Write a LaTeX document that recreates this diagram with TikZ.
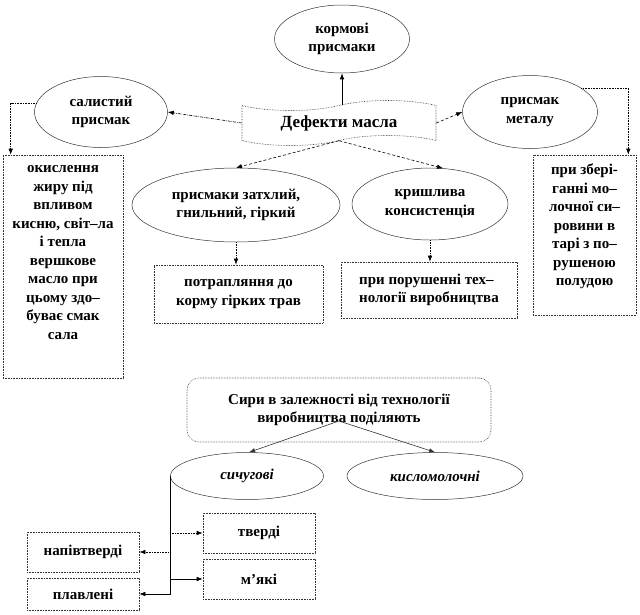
\documentclass[tikz,border=0pt]{standalone}
\usepackage{fontspec}
\setmainfont{Liberation Serif}
\usetikzlibrary{shapes.geometric,shapes.symbols,arrows.meta}

\begin{document}
\begin{tikzpicture}[x=1pt,y=-1pt,
    font=\fontsize{15}{18.5}\selectfont\bfseries,
    oval/.style={ellipse,draw=black!80,line width=0.5pt,align=center,inner sep=0pt},
    box/.style={rectangle,draw=black!80,densely dotted,line width=0.6pt,align=center,inner sep=2pt},
    link/.style={-{Latex[length=6pt,width=4.5pt]},line width=0.6pt}]
    \useasboundingbox (0,0) rectangle (640,614);

    \node[tape,draw=black!80,densely dotted,line width=0.6pt,minimum width=194,minimum height=45,
          tape bend height=10pt,font=\fontsize{17}{20}\selectfont\bfseries] (defekt) at (339,123) {Дефекти масла};
    \node[oval,minimum width=135,minimum height=68] (korm) at (342,39) {кормові\\присмаки};
    \node[oval,minimum width=133,minimum height=71] (salyst) at (101,112) {салистий\\присмак};
    \node[oval,minimum width=135,minimum height=73] (metal) at (530,112) {присмак\\металу};
    \node[oval,minimum width=208,minimum height=74] (zathl) at (236,205) {присмаки затхлий,\\гнильний, гіркий};
    \node[oval,minimum width=156,minimum height=72] (kryshl) at (430,204) {кришлива\\консистенція};

    \node[box,minimum width=120,minimum height=223,text depth=28pt] (okysl) at (63,266.5)
        {окислення\\жиру під\\впливом\\кисню, світ–ла\\і тепла\\вершкове\\масло при\\цьому здо–\\буває смак\\сала};
    \node[box,minimum width=103,minimum height=160,text depth=20pt] (zberig) at (584.5,235)
        {при збері-\\ганні мо–\\лочної си–\\ровини в\\тарі з по–\\рушеною\\полудою};
    \node[box,minimum width=169,minimum height=58] (potrap) at (238.5,294) {потрапляння до\\корму гірких трав};
    \node[box,minimum width=176,minimum height=56,align=left] (porush) at (429,290) {при порушенні тех–\\нології виробництва};

    \draw[link] (korm.south |- defekt.north) -- (korm.south);
    \draw[link,densely dashdotted] (defekt.west) -- (salyst.east);
    \draw[link,densely dashed] (defekt.east) -- (metal.west);
    \draw[link,densely dashed] (defekt.south) -- (zathl.north);
    \draw[link,densely dashed] (defekt.south) -- (kryshl.70);
    \draw[link,densely dotted] (salyst.172) -| ([xshift=8pt]okysl.north west);
    \draw[link,densely dotted] (metal.25) -| ([xshift=-8pt]zberig.north east);
    \draw[link,densely dotted] (zathl.south) -- (zathl.south |- potrap.north);
    \draw[link,densely dotted] (kryshl.south) -- (kryshl.south |- porush.north);

    \node[box,rounded corners=12pt,minimum width=304,minimum height=64] (syry) at (339,410)
        {Сири в залежності від технології\\виробництва поділяють};
    \node[oval,minimum width=153,minimum height=47,font=\fontsize{15}{18}\selectfont\bfseries\itshape] (sych) at (247,476) {сичугові};
    \node[oval,minimum width=176,minimum height=47,font=\fontsize{15}{18}\selectfont\bfseries\itshape] (kysl) at (435,476) {кисломолочні};
    \node[box,minimum width=112,minimum height=40] (tverdi) at (259,533) {тверді};
    \node[box,minimum width=112,minimum height=40] (myaki) at (259,579) {м’які};
    \node[box,minimum width=112,minimum height=40] (napiv) at (83,552) {напівтверді};
    \node[box,minimum width=112,minimum height=32] (plavl) at (83,594) {плавлені};

    \coordinate (syryv) at ([yshift=-11pt]syry.center);
    \draw[link,black!80] (syryv) -- (sych.85);
    \draw[link,black!80] (syryv) -- (kysl.north);
    \draw[link] (sych.west) |- (plavl.east);
    \draw[link] (sych.west |- myaki.west) -- (myaki.west);
    \draw[link,densely dotted] (sych.west |- tverdi.west) -- (tverdi.west);
    \draw[link,densely dotted] (sych.west |- napiv.east) -- (napiv.east);
\end{tikzpicture}
\end{document}
